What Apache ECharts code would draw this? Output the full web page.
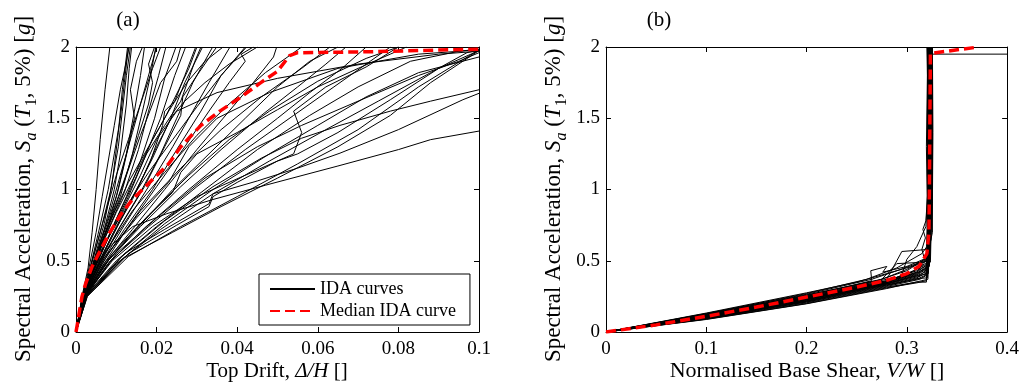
<!DOCTYPE html>
<html>
<head>
<meta charset="utf-8">
<script src="https://cdn.jsdelivr.net/npm/echarts@6/dist/echarts.min.js"></script>
<style>
  html, body { margin: 0; padding: 0; background: #fff; }
  #chart { width: 1022px; height: 385px; }
</style>
</head>
<body>
<div id="chart"></div>
<script>
// ---- Tick values -------------------------------------------------------
const saTicks = [0, 0.5, 1, 1.5, 2];
const driftTicks = [0, 0.02, 0.04, 0.06, 0.08, 0.1];
const shearTicks = [0, 0.1, 0.2, 0.3, 0.4];

// ---- (a) IDA curves: [top drift, Sa] per record ------------------------
const idaDrift = [
  [[0,0],[0.0015,0.25],[0.003,0.45],[0.004,0.7],[0.005,1.0],[0.006,1.35],[0.0072,1.7],[0.0084,2.0]],
  [[0,0],[0.0015,0.24],[0.003,0.42],[0.005,0.7],[0.0065,0.95],[0.008,1.2],[0.0095,1.45],[0.011,1.7],[0.0125,1.9],[0.0132,2.0]],
  [[0,0],[0.0016,0.25],[0.0035,0.45],[0.006,0.75],[0.008,1.0],[0.0095,1.25],[0.011,1.5],[0.012,1.75],[0.013,2.0]],
  [[0,0],[0.0016,0.24],[0.0035,0.44],[0.006,0.7],[0.0085,0.98],[0.0105,1.3],[0.0115,1.55],[0.0125,1.8],[0.0135,2.0]],
  [[0,0],[0.0017,0.25],[0.004,0.46],[0.007,0.76],[0.009,1.05],[0.0105,1.4],[0.0115,1.7],[0.0128,2.0]],
  [[0,0],[0.0016,0.24],[0.004,0.45],[0.007,0.72],[0.0095,1.0],[0.011,1.25],[0.0125,1.6],[0.0132,1.85],[0.0138,2.0]],
  [[0,0],[0.0017,0.25],[0.004,0.45],[0.007,0.7],[0.01,0.95],[0.0125,1.25],[0.0145,1.55],[0.016,1.8],[0.017,2.0]],
  [[0,0],[0.0018,0.26],[0.0042,0.45],[0.0075,0.7],[0.011,0.95],[0.014,1.25],[0.0165,1.55],[0.0185,1.8],[0.0198,2.0]],
  [[0,0],[0.0018,0.25],[0.0045,0.46],[0.008,0.72],[0.012,0.98],[0.0155,1.28],[0.018,1.55],[0.0205,1.8],[0.0223,2.0]],
  [[0,0],[0.0018,0.25],[0.0045,0.45],[0.0085,0.7],[0.0125,0.95],[0.016,1.2],[0.0195,1.5],[0.022,1.78],[0.0248,2.0]],
  [[0,0],[0.0019,0.26],[0.005,0.47],[0.009,0.72],[0.013,0.95],[0.017,1.22],[0.021,1.5],[0.0245,1.8],[0.0272,2.0]],
  [[0,0],[0.0019,0.25],[0.005,0.45],[0.009,0.68],[0.014,0.93],[0.0185,1.2],[0.0215,1.45],[0.022,1.55],[0.0245,1.62],[0.027,1.8],[0.0297,2.0]],
  [[0,0],[0.002,0.26],[0.0055,0.48],[0.01,0.74],[0.015,1.0],[0.019,1.22],[0.0235,1.5],[0.027,1.75],[0.0314,2.0]],
  [[0,0],[0.002,0.25],[0.0055,0.46],[0.0105,0.72],[0.016,0.98],[0.021,1.25],[0.025,1.5],[0.029,1.75],[0.0339,2.0]],
  [[0,0],[0.002,0.26],[0.006,0.48],[0.011,0.74],[0.017,1.02],[0.022,1.3],[0.026,1.52],[0.0265,1.65],[0.03,1.8],[0.0349,2.0]],
  [[0,0],[0.002,0.25],[0.006,0.47],[0.012,0.75],[0.018,1.02],[0.024,1.3],[0.029,1.55],[0.033,1.75],[0.0382,2.0]],
  [[0,0],[0.0021,0.26],[0.0065,0.48],[0.012,0.72],[0.019,1.0],[0.025,1.28],[0.031,1.55],[0.036,1.8],[0.0423,2.0]],
  [[0,0],[0.0021,0.25],[0.0065,0.46],[0.013,0.74],[0.02,1.02],[0.027,1.3],[0.033,1.55],[0.038,1.75],[0.042,1.9],[0.041,1.95],[0.044,2.0]],
  [[0,0],[0.0018,0.25],[0.005,0.5],[0.008,0.75],[0.0105,1.0],[0.013,1.3],[0.0145,1.5],[0.0135,1.7],[0.015,1.9],[0.0165,2.0]],
  [[0,0],[0.0022,0.26],[0.007,0.48],[0.014,0.72],[0.022,1.0],[0.03,1.28],[0.038,1.55],[0.044,1.75],[0.049,1.93],[0.0498,2.0]],
  [[0,0],[0.0022,0.25],[0.007,0.47],[0.015,0.72],[0.024,1.0],[0.033,1.25],[0.042,1.5],[0.05,1.72],[0.058,1.9],[0.065,2.0]],
  [[0,0],[0.0023,0.26],[0.008,0.5],[0.016,0.74],[0.026,1.02],[0.036,1.28],[0.046,1.52],[0.055,1.72],[0.062,1.88],[0.067,2.0]],
  [[0,0],[0.0023,0.25],[0.008,0.48],[0.017,0.73],[0.028,1.0],[0.04,1.28],[0.05,1.5],[0.058,1.68],[0.066,1.85],[0.072,2.0]],
  [[0,0],[0.0024,0.26],[0.0085,0.5],[0.018,0.74],[0.03,1.02],[0.042,1.28],[0.054,1.52],[0.064,1.72],[0.072,1.88],[0.078,2.0]],
  [[0,0],[0.0024,0.26],[0.009,0.5],[0.019,0.74],[0.03,0.95],[0.042,1.1],[0.054,1.25],[0.056,1.4],[0.054,1.55],[0.062,1.72],[0.072,1.86],[0.08,2.0]],
  [[0,0],[0.0025,0.25],[0.01,0.48],[0.021,0.72],[0.034,0.97],[0.048,1.2],[0.062,1.42],[0.075,1.62],[0.088,1.82],[0.097,1.96],[0.1,1.98]],
  [[0,0],[0.0025,0.26],[0.01,0.5],[0.02,0.74],[0.032,1.0],[0.045,1.28],[0.058,1.52],[0.07,1.72],[0.083,1.9],[0.095,1.97],[0.1,1.985]],
  [[0,0],[0.0026,0.25],[0.011,0.5],[0.022,0.76],[0.034,1.0],[0.048,1.25],[0.06,1.45],[0.072,1.65],[0.085,1.82],[0.1,1.93]],
  [[0,0],[0.0026,0.26],[0.011,0.52],[0.022,0.78],[0.034,1.02],[0.046,1.22],[0.056,1.36],[0.0655,1.45],[0.078,1.55],[0.088,1.62],[0.1,1.70]],
  [[0,0],[0.0027,0.25],[0.012,0.55],[0.022,0.72],[0.033,0.9],[0.034,0.97],[0.045,1.06],[0.055,1.15],[0.0655,1.255],[0.08,1.42],[0.096,1.63],[0.1,1.675]],
  [[0,0],[0.003,0.35],[0.0051,0.48],[0.0084,0.6],[0.0141,0.74],[0.0225,0.83],[0.034,0.93],[0.047,1.03],[0.065,1.165],[0.08,1.28],[0.088,1.35],[0.1,1.41]],
  [[0,0],[0.0026,0.26],[0.01,0.55],[0.02,0.8],[0.032,1.08],[0.045,1.3],[0.056,1.45],[0.07,1.62],[0.085,1.8],[0.095,1.9],[0.1,1.96]],
  [[0,0],[0.0025,0.27],[0.009,0.55],[0.018,0.82],[0.028,1.1],[0.038,1.35],[0.048,1.55],[0.06,1.76],[0.072,1.92],[0.08,2.0]],
  [[0,0],[0.0024,0.27],[0.008,0.55],[0.016,0.85],[0.026,1.15],[0.036,1.42],[0.046,1.65],[0.056,1.85],[0.063,2.0]],
  [[0,0],[0.0022,0.27],[0.007,0.55],[0.014,0.85],[0.022,1.12],[0.03,1.38],[0.038,1.6],[0.047,1.82],[0.056,2.0]],
  [[0,0],[0.0021,0.27],[0.006,0.56],[0.012,0.86],[0.018,1.12],[0.024,1.35],[0.03,1.58],[0.036,1.8],[0.042,2.0]],
  [[0,0],[0.002,0.27],[0.006,0.55],[0.011,0.82],[0.016,1.1],[0.02,1.35],[0.025,1.55],[0.035,1.68],[0.05,1.78],[0.07,1.88],[0.09,1.95],[0.1,1.97]],
  [[0,0],[0.0023,0.26],[0.007,0.52],[0.015,0.8],[0.023,1.05],[0.028,1.3],[0.035,1.5],[0.048,1.68],[0.065,1.85],[0.085,1.95],[0.1,1.98]],
  [[0,0],[0.0028,0.25],[0.013,0.55],[0.025,0.75],[0.033,0.88],[0.034,0.95],[0.04,1.05],[0.05,1.2],[0.055,1.25],[0.065,1.4],[0.078,1.63],[0.09,1.85],[0.1,1.975]],
  [[0,0],[0.002,0.26],[0.0045,0.5],[0.0085,0.78],[0.013,1.05],[0.018,1.3],[0.022,1.5],[0.0255,1.7],[0.028,1.85],[0.03,2.0]],
  [[0,0],[0.0019,0.26],[0.004,0.5],[0.007,0.8],[0.01,1.1],[0.013,1.35],[0.016,1.6],[0.019,1.85],[0.021,2.0]],
  [[0,0],[0.0024,0.26],[0.0085,0.52],[0.016,0.76],[0.024,0.98],[0.026,1.12],[0.03,1.25],[0.04,1.4],[0.05,1.56],[0.06,1.72],[0.07,1.85],[0.078,1.95],[0.082,2.0]],
  [[0,0],[0.0027,0.26],[0.012,0.52],[0.024,0.7],[0.036,0.88],[0.05,1.08],[0.065,1.3],[0.078,1.52],[0.088,1.75],[0.1,1.975]],
  [[0,0],[0.0028,0.25],[0.013,0.53],[0.026,0.74],[0.04,0.95],[0.055,1.18],[0.07,1.42],[0.085,1.72],[0.1,1.98]],
  [[0,0],[0.0017,0.25],[0.0045,0.5],[0.008,0.8],[0.011,1.1],[0.014,1.4],[0.0165,1.65],[0.0185,1.85],[0.02,2.0]],
  [[0,0],[0.0018,0.26],[0.005,0.52],[0.009,0.82],[0.0125,1.1],[0.016,1.38],[0.019,1.6],[0.021,1.75],[0.025,1.9],[0.026,2.0]],
  [[0,0],[0.002,0.27],[0.0055,0.55],[0.01,0.84],[0.015,1.12],[0.019,1.35],[0.023,1.55],[0.0275,1.75],[0.032,1.9],[0.0365,2.0]],
  [[0,0],[0.0019,0.26],[0.0045,0.48],[0.0075,0.72],[0.0105,0.95],[0.013,1.15],[0.0155,1.38],[0.018,1.6],[0.019,1.75],[0.018,1.88],[0.0195,2.0]],
  [[0,0],[0.002,0.26],[0.0055,0.5],[0.0095,0.76],[0.0135,1.0],[0.0175,1.25],[0.022,1.45],[0.026,1.62],[0.028,1.78],[0.0295,1.9],[0.031,2.0]],
  [[0,0],[0.0021,0.26],[0.006,0.5],[0.011,0.78],[0.016,1.05],[0.02,1.3],[0.024,1.52],[0.027,1.62],[0.032,1.75],[0.038,1.88],[0.045,2.0]]
];
const medianDrift = [[0,0],[0.0005,0.08],[0.001,0.17],[0.0015,0.25],[0.0024,0.34],[0.004,0.46],[0.006,0.57],[0.0082,0.69],[0.011,0.82],[0.014,0.93],[0.019,1.07],[0.023,1.18],[0.026,1.3],[0.031,1.45],[0.0357,1.55],[0.041,1.65],[0.0456,1.745],[0.05,1.83],[0.053,1.94],[0.055,1.96],[0.07,1.965],[0.085,1.975],[0.1,1.985]];

// ---- (b) IDA curves: [normalised base shear, Sa] per record ------------
const idaShear = [
  [[0,0],[0.1,0.09],[0.2,0.2],[0.28,0.31],[0.31,0.345],[0.3195,0.36],[0.3205,0.7],[0.321,1.0],[0.3205,1.5],[0.321,2.0]],
  [[0,0],[0.1,0.095],[0.2,0.21],[0.28,0.32],[0.313,0.37],[0.32,0.4],[0.3215,0.8],[0.322,1.2],[0.3215,1.6],[0.322,2.0]],
  [[0,0],[0.1,0.1],[0.2,0.22],[0.28,0.33],[0.31,0.38],[0.321,0.42],[0.322,0.9],[0.3225,1.3],[0.322,1.7],[0.3225,2.0]],
  [[0,0],[0.1,0.105],[0.2,0.23],[0.28,0.34],[0.31,0.4],[0.3215,0.45],[0.3225,0.8],[0.323,1.1],[0.3235,1.6],[0.323,2.0]],
  [[0,0],[0.1,0.11],[0.2,0.235],[0.28,0.35],[0.31,0.41],[0.322,0.47],[0.3235,0.9],[0.324,1.4],[0.3235,2.0]],
  [[0,0],[0.1,0.115],[0.2,0.24],[0.28,0.355],[0.31,0.42],[0.322,0.48],[0.323,0.7],[0.3245,1.2],[0.324,1.8],[0.3245,2.0]],
  [[0,0],[0.1,0.12],[0.2,0.25],[0.28,0.36],[0.305,0.42],[0.3225,0.5],[0.3245,1.0],[0.325,1.5],[0.3245,2.0]],
  [[0,0],[0.1,0.125],[0.2,0.26],[0.27,0.36],[0.3,0.43],[0.32,0.52],[0.3235,0.8],[0.3245,1.3],[0.325,2.0]],
  [[0,0],[0.1,0.13],[0.2,0.265],[0.265,0.37],[0.29,0.43],[0.318,0.5],[0.322,0.6],[0.3255,1.0],[0.3255,1.6],[0.3255,2.0]],
  [[0,0],[0.1,0.128],[0.2,0.27],[0.26,0.37],[0.29,0.45],[0.315,0.55],[0.32,0.6],[0.3215,1.0],[0.3225,2.0]],
  [[0,0],[0.1,0.12],[0.2,0.25],[0.265,0.36],[0.264,0.43],[0.28,0.46],[0.276,0.42],[0.3,0.46],[0.32,0.52],[0.322,1.0],[0.3215,1.5],[0.322,2.0]],
  [[0,0],[0.1,0.092],[0.2,0.205],[0.28,0.315],[0.31,0.35],[0.3195,0.35],[0.32,0.45],[0.321,0.9],[0.3215,1.6],[0.321,2.0]],
  [[0,0],[0.1,0.11],[0.2,0.24],[0.28,0.35],[0.31,0.42],[0.318,0.5],[0.315,0.58],[0.3185,0.66],[0.316,0.72],[0.319,0.78],[0.321,1.0],[0.3215,2.0]],
  [[0,0],[0.1,0.108],[0.2,0.228],[0.28,0.345],[0.295,0.4],[0.3,0.51],[0.31,0.6],[0.319,0.74],[0.321,1.0],[0.3215,2.0]],
  [[0,0],[0.1,0.1],[0.2,0.215],[0.28,0.335],[0.312,0.39],[0.32,0.44],[0.3225,0.6],[0.3235,1.0],[0.3235,1.5],[0.324,2.0]],
  [[0,0],[0.1,0.118],[0.2,0.245],[0.28,0.37],[0.295,0.565],[0.322,0.58],[0.3255,0.7],[0.3255,1.2],[0.3245,1.7],[0.325,2.0]],
  [[0,0],[0.1,0.098],[0.2,0.212],[0.28,0.325],[0.31,0.375],[0.3205,0.38],[0.321,0.6],[0.3205,1.1],[0.321,1.65],[0.3205,2.0]],
  [[0,0],[0.1,0.113],[0.2,0.238],[0.28,0.352],[0.31,0.44],[0.3235,0.49],[0.3245,0.8],[0.325,1.3],[0.3245,1.8],[0.325,2.0]],
  [[0,0],[0.1,0.122],[0.2,0.255],[0.27,0.355],[0.3,0.44],[0.323,0.53],[0.3255,0.9],[0.326,1.4],[0.3255,2.0]],
  [[0,0],[0.1,0.104],[0.2,0.225],[0.28,0.34],[0.31,0.395],[0.3215,0.43],[0.322,0.75],[0.3235,1.25],[0.3225,1.75],[0.323,2.0]],
  [[0,0],[0.1,0.107],[0.2,0.23],[0.28,0.345],[0.31,0.405],[0.322,0.46],[0.3225,1.0],[0.323,1.5],[0.3235,1.95],[0.4,1.95]],
  [[0,0],[0.1,0.096],[0.2,0.218],[0.28,0.33],[0.31,0.37],[0.319,0.4],[0.32,0.55],[0.3205,0.85],[0.3195,1.3],[0.3205,1.8],[0.32,2.0]],
  [[0,0],[0.1,0.116],[0.2,0.242],[0.28,0.36],[0.31,0.43],[0.3205,0.47],[0.3225,0.9],[0.322,1.45],[0.3225,2.0]],
  [[0,0],[0.1,0.124],[0.2,0.258],[0.275,0.37],[0.29,0.48],[0.318,0.49],[0.324,0.65],[0.3245,1.1],[0.3255,1.7],[0.325,2.0]],
  [[0,0],[0.1,0.102],[0.2,0.22],[0.28,0.338],[0.308,0.39],[0.3215,0.41],[0.323,0.7],[0.3225,1.1],[0.3235,1.55],[0.3225,2.0]],
  [[0,0],[0.1,0.112],[0.2,0.232],[0.28,0.35],[0.31,0.415],[0.3225,0.46],[0.324,0.75],[0.3235,1.3],[0.3245,1.9],[0.324,2.0]],
  [[0,0],[0.1,0.133],[0.2,0.275],[0.25,0.35],[0.28,0.41],[0.31,0.47],[0.3205,0.5],[0.3215,0.9],[0.321,1.4],[0.3215,2.0]],
  [[0,0],[0.1,0.088],[0.2,0.198],[0.28,0.305],[0.315,0.36],[0.321,0.37],[0.3225,0.65],[0.323,1.2],[0.3225,1.7],[0.323,2.0]]
];
const medianShear = [[0,0],[0.05,0.05],[0.1,0.11],[0.15,0.175],[0.2,0.245],[0.25,0.315],[0.282,0.367],[0.3,0.41],[0.312,0.46],[0.32,0.55],[0.322,0.7],[0.3225,1.0],[0.323,1.5],[0.3235,1.955],[0.3715,2.0]];

// ---- Styling helpers ---------------------------------------------------
const SERIF = 'Liberation Serif, Times New Roman, serif';
const INK = '#000';

function baseAxis(grid, ticks, position) {
  return {
    type: 'value', gridIndex: grid, position: position,
    min: ticks[0], max: ticks[ticks.length - 1], interval: ticks[1] - ticks[0],
    axisLine: { show: true, onZero: false, lineStyle: { color: INK, width: 1 } },
    axisTick: { show: true, inside: true, length: 5, lineStyle: { color: INK } },
    axisLabel: { show: false },
    splitLine: { show: false }
  };
}
const trimZeros = v => String(+v.toFixed(4));
function labelledAxis(grid, ticks, position, margin) {
  const ax = baseAxis(grid, ticks, position);
  ax.axisLabel = { show: true, color: INK, fontFamily: 'Liberation Serif', fontSize: 19,
                   margin: margin, formatter: trimZeros };
  return ax;
}

// ---- Series ------------------------------------------------------------
const series = [];
function addPanel(axisIdx, curves, median) {
  curves.forEach(c => series.push({
    type: 'line', name: 'IDA curves', xAxisIndex: axisIdx, yAxisIndex: axisIdx,
    data: c, symbol: 'none', showSymbol: false, silent: true, z: 2,
    lineStyle: { color: INK, width: 1 }, itemStyle: { color: INK }
  }));
  series.push({
    type: 'line', name: 'Median IDA curve', xAxisIndex: axisIdx, yAxisIndex: axisIdx,
    data: median, symbol: 'none', showSymbol: false, silent: true, z: 5,
    lineStyle: { color: '#ff0000', width: 3.5, type: [10, 5] }, itemStyle: { color: '#ff0000' }
  });
}
addPanel(0, idaDrift, medianDrift);
addPanel(1, idaShear, medianShear);

// ---- Axis titles as rich text -----------------------------------------
function richSet(size, sub) {
  return {
    n: { fontFamily: 'Liberation Serif', fontSize: size, lineHeight: size + 8, color: INK },
    i: { fontFamily: 'Liberation Serif', fontSize: size, lineHeight: size + 8, fontStyle: 'italic', color: INK },
    si: { fontFamily: 'Liberation Serif', fontSize: sub, lineHeight: sub, fontStyle: 'italic', verticalAlign: 'bottom', color: INK },
    s: { fontFamily: 'Liberation Serif', fontSize: sub, lineHeight: sub, verticalAlign: 'bottom', color: INK }
  };
}
const saTitle = '{n|Spectral Acceleration, }{i|S}{si|a}{n| (}{i|T}{s|1}{n|, 5%) [}{i|g}{n|]}';

function textEl(x, y, text, size, rot) {
  return {
    type: 'text', x: x, y: y, rotation: rot || 0, silent: true,
    style: { text: text, rich: richSet(size, Math.round(size * 0.68)), align: 'center', verticalAlign: 'middle',
             fontFamily: 'Liberation Serif', fontSize: size, fill: INK }
  };
}

const chart = echarts.init(document.getElementById('chart'), null, { renderer: 'canvas' });
chart.setOption({
  animation: false,
  backgroundColor: '#fff',
  grid: [
    { left: 76, top: 47, width: 403, height: 285 },
    { left: 606, top: 47, width: 403, height: 285 }
  ],
  xAxis: [
    labelledAxis(0, driftTicks, 'bottom', 8), labelledAxis(1, shearTicks, 'bottom', 8),
    baseAxis(0, driftTicks, 'top'), baseAxis(1, shearTicks, 'top')
  ],
  yAxis: [
    labelledAxis(0, saTicks, 'left', 6), labelledAxis(1, saTicks, 'left', 6),
    baseAxis(0, saTicks, 'right'), baseAxis(1, saTicks, 'right')
  ],
  legend: {
    data: ['IDA curves', 'Median IDA curve'],
    orient: 'vertical', left: 259, top: 274,
    padding: [5, 14, 4, 10], itemGap: 2,
    itemWidth: 45, itemHeight: 14,
    borderColor: INK, borderWidth: 1, borderRadius: 0, backgroundColor: '#fff',
    selectedMode: false,
    itemStyle: { opacity: 0 },
    textStyle: { fontFamily: 'Liberation Serif', fontSize: 18, color: INK, lineHeight: 20 }
  },
  graphic: [
    textEl(128, 20, '{n|(a)}', 21),
    textEl(659, 20, '{n|(b)}', 21),
    textEl(277, 371, '{n|Top Drift, }{i|Δ/H}{n| []}', 21),
    textEl(807, 371, '{n|Normalised Base Shear, }{i|V/W}{n| []}', 22),
    textEl(24, 189, saTitle, 23, Math.PI / 2),
    textEl(554, 189, saTitle, 23, Math.PI / 2)
  ],
  series: series
});
</script>
</body>
</html>
